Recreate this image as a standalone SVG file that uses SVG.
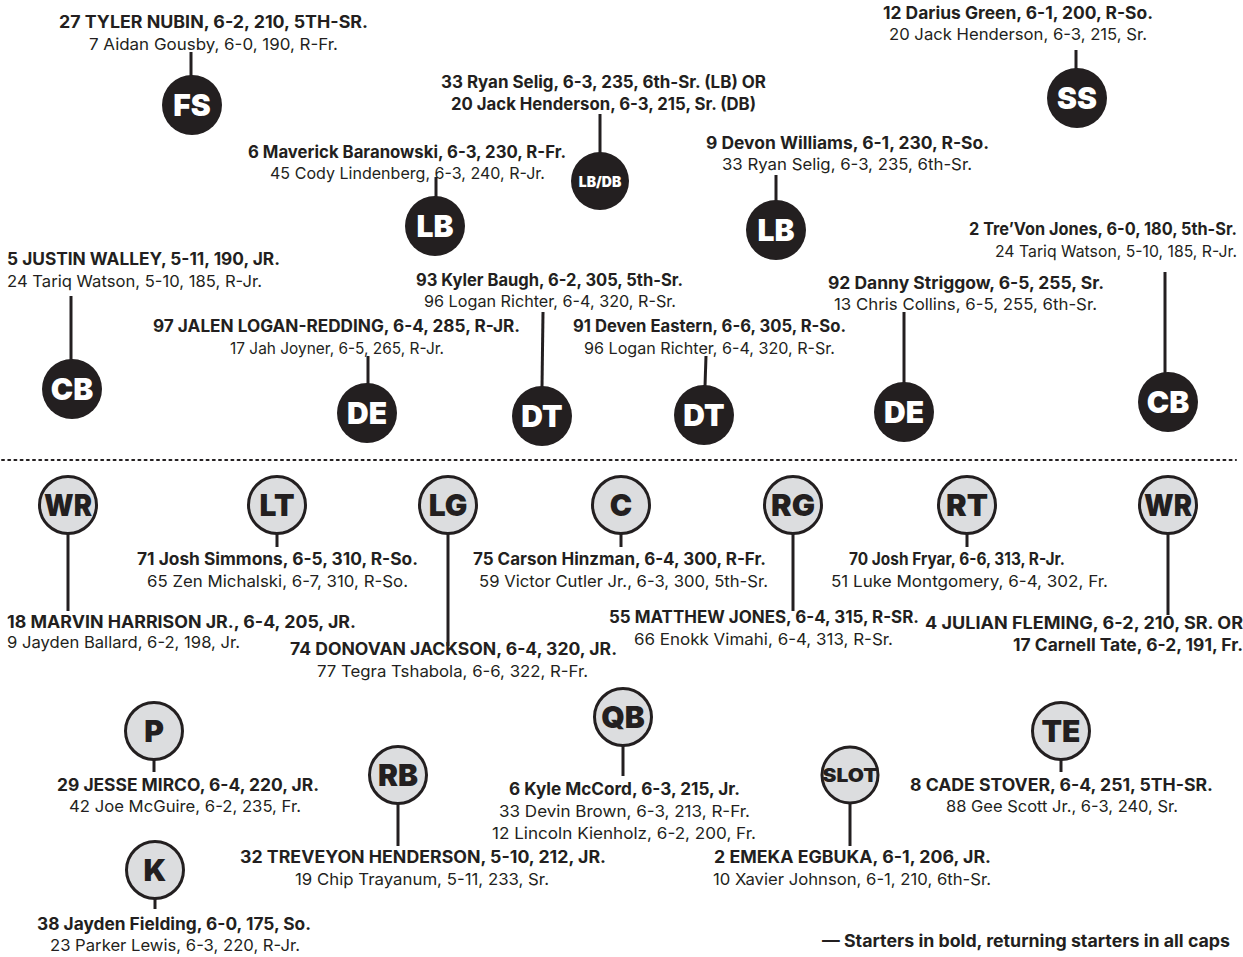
<svg xmlns="http://www.w3.org/2000/svg" width="1243" height="957" viewBox="0 0 1243 957">
<style>
text{fill:#231f20;text-anchor:middle}
.b{font-family:Inter,"Liberation Sans",sans-serif;font-weight:700;font-size:17px}
.r{font-family:Inter,"Liberation Sans",sans-serif;font-weight:400;font-size:16.5px}
.d circle{fill:#231f20}
.d text.p{fill:#fff}
.o circle{fill:#dcdddf;stroke:#231f20;stroke-width:3}
.p{font-family:Inter,"Liberation Sans",sans-serif;font-weight:900;font-size:30px}
#connectors line{stroke:#231f20;stroke-width:3}
</style>
<rect width="1243" height="957" fill="#fff"/>
<line x1="2" y1="460" x2="1236" y2="460" stroke="#231f20" stroke-width="2" stroke-dasharray="2 4.2" stroke-linecap="round"/>
<g id="connectors">
<line x1="191" y1="52" x2="191" y2="76"/>
<line x1="1076" y1="50" x2="1076" y2="69"/>
<line x1="600" y1="114" x2="600" y2="153"/>
<line x1="436" y1="177" x2="436" y2="197"/>
<line x1="776" y1="175" x2="776" y2="201"/>
<line x1="71" y1="296" x2="71" y2="360"/>
<line x1="1165" y1="272" x2="1165" y2="373"/>
<line x1="368" y1="356" x2="368" y2="384"/>
<line x1="543" y1="312" x2="542" y2="387"/>
<line x1="706" y1="356" x2="705" y2="386"/>
<line x1="904" y1="312" x2="904" y2="383"/>
<line x1="68" y1="534" x2="68" y2="611"/>
<line x1="277" y1="534" x2="277" y2="547"/>
<line x1="448" y1="534" x2="448" y2="646"/>
<line x1="621" y1="534" x2="621" y2="547"/>
<line x1="793" y1="534" x2="793" y2="611"/>
<line x1="967" y1="534" x2="967" y2="547"/>
<line x1="1168" y1="534" x2="1168" y2="615"/>
<line x1="154" y1="760" x2="154" y2="772"/>
<line x1="155" y1="899" x2="155" y2="909"/>
<line x1="398" y1="804" x2="398" y2="846"/>
<line x1="623" y1="746" x2="623" y2="776"/>
<line x1="850" y1="803" x2="850" y2="846"/>
<line x1="1061" y1="760" x2="1061" y2="772"/>
</g>
<g id="fs" class="d"><circle cx="192" cy="105" r="30"/><text class="p" x="192" y="116">FS</text>
<text class="b" x="213.5" y="28" textLength="309" lengthAdjust="spacingAndGlyphs">27 TYLER NUBIN, 6-2, 210, 5TH-SR.</text>
<text class="r" x="213.5" y="50" textLength="249" lengthAdjust="spacingAndGlyphs">7 Aidan Gousby, 6-0, 190, R-Fr.</text></g>
<g id="ss" class="d"><circle cx="1077" cy="98" r="30"/><text class="p" x="1077" y="109">SS</text>
<text class="b" x="1018" y="19" textLength="270" lengthAdjust="spacingAndGlyphs">12 Darius Green, 6-1, 200, R-So.</text>
<text class="r" x="1018" y="40" textLength="258" lengthAdjust="spacingAndGlyphs">20 Jack Henderson, 6-3, 215, Sr.</text></g>
<g id="lbdb" class="d"><circle cx="600" cy="181" r="29"/><text class="p" x="600" y="187" style="font-size:14px">LB/DB</text>
<text class="b" x="603.5" y="88" textLength="325" lengthAdjust="spacingAndGlyphs">33 Ryan Selig, 6-3, 235, 6th-Sr. (LB) OR</text>
<text class="b" x="603.5" y="110" textLength="305" lengthAdjust="spacingAndGlyphs">20 Jack Henderson, 6-3, 215, Sr. (DB)</text></g>
<g id="lb-left" class="d"><circle cx="435" cy="226" r="30"/><text class="p" x="435" y="237">LB</text>
<text class="b" x="407" y="158" textLength="318" lengthAdjust="spacingAndGlyphs">6 Maverick Baranowski, 6-3, 230, R-Fr.</text>
<text class="r" x="407.5" y="179" textLength="275" lengthAdjust="spacingAndGlyphs">45 Cody Lindenberg, 6-3, 240, R-Jr.</text></g>
<g id="lb-right" class="d"><circle cx="776" cy="230" r="30"/><text class="p" x="776" y="241">LB</text>
<text class="b" x="847.5" y="149" textLength="283" lengthAdjust="spacingAndGlyphs">9 Devon Williams, 6-1, 230, R-So.</text>
<text class="r" x="847" y="170" textLength="250" lengthAdjust="spacingAndGlyphs">33 Ryan Selig, 6-3, 235, 6th-Sr.</text></g>
<g id="cb-left" class="d"><circle cx="72" cy="389" r="30"/><text class="p" x="72" y="400">CB</text>
<text class="b" x="143.5" y="265" textLength="273" lengthAdjust="spacingAndGlyphs">5 JUSTIN WALLEY, 5-11, 190, JR.</text>
<text class="r" x="134.5" y="287" textLength="255" lengthAdjust="spacingAndGlyphs">24 Tariq Watson, 5-10, 185, R-Jr.</text></g>
<g id="cb-right" class="d"><circle cx="1168" cy="402" r="30"/><text class="p" x="1168" y="413">CB</text>
<text class="b" x="1103" y="235" textLength="268" lengthAdjust="spacingAndGlyphs">2 Tre’Von Jones, 6-0, 180, 5th-Sr.</text>
<text class="r" x="1116" y="257" textLength="242" lengthAdjust="spacingAndGlyphs">24 Tariq Watson, 5-10, 185, R-Jr.</text></g>
<g id="de-left" class="d"><circle cx="367" cy="413" r="30"/><text class="p" x="367" y="424">DE</text>
<text class="b" x="336.5" y="332" textLength="367" lengthAdjust="spacingAndGlyphs">97 JALEN LOGAN-REDDING, 6-4, 285, R-JR.</text>
<text class="r" x="337" y="354" textLength="214" lengthAdjust="spacingAndGlyphs">17 Jah Joyner, 6-5, 265, R-Jr.</text></g>
<g id="dt-left" class="d"><circle cx="542" cy="416" r="30"/><text class="p" x="542" y="427">DT</text>
<text class="b" x="549.5" y="286" textLength="267" lengthAdjust="spacingAndGlyphs">93 Kyler Baugh, 6-2, 305, 5th-Sr.</text>
<text class="r" x="550" y="307" textLength="252" lengthAdjust="spacingAndGlyphs">96 Logan Richter, 6-4, 320, R-Sr.</text></g>
<g id="dt-right" class="d"><circle cx="704" cy="415" r="30"/><text class="p" x="704" y="426">DT</text>
<text class="b" x="709.5" y="332" textLength="273" lengthAdjust="spacingAndGlyphs">91 Deven Eastern, 6-6, 305, R-So.</text>
<text class="r" x="709.5" y="354" textLength="251" lengthAdjust="spacingAndGlyphs">96 Logan Richter, 6-4, 320, R-Sr.</text></g>
<g id="de-right" class="d"><circle cx="904" cy="412" r="30"/><text class="p" x="904" y="423">DE</text>
<text class="b" x="966" y="289" textLength="276" lengthAdjust="spacingAndGlyphs">92 Danny Striggow, 6-5, 255, Sr.</text>
<text class="r" x="965.5" y="310" textLength="263" lengthAdjust="spacingAndGlyphs">13 Chris Collins, 6-5, 255, 6th-Sr.</text></g>
<g id="wr-left" class="o"><circle cx="68" cy="505" r="28.5"/><text class="p" x="68" y="516" textLength="48" lengthAdjust="spacingAndGlyphs">WR</text>
<text class="b" x="181.5" y="628" textLength="349" lengthAdjust="spacingAndGlyphs">18 MARVIN HARRISON JR., 6-4, 205, JR.</text>
<text class="r" x="123.5" y="648" textLength="233" lengthAdjust="spacingAndGlyphs">9 Jayden Ballard, 6-2, 198, Jr.</text></g>
<g id="lt" class="o"><circle cx="277" cy="505" r="28.5"/><text class="p" x="277" y="516">LT</text>
<text class="b" x="277.5" y="565" textLength="281" lengthAdjust="spacingAndGlyphs">71 Josh Simmons, 6-5, 310, R-So.</text>
<text class="r" x="277.5" y="587" textLength="261" lengthAdjust="spacingAndGlyphs">65 Zen Michalski, 6-7, 310, R-So.</text></g>
<g id="lg" class="o"><circle cx="448" cy="505" r="28.5"/><text class="p" x="448" y="516">LG</text>
<text class="b" x="453.5" y="655" textLength="327" lengthAdjust="spacingAndGlyphs">74 DONOVAN JACKSON, 6-4, 320, JR.</text>
<text class="r" x="452.5" y="677" textLength="271" lengthAdjust="spacingAndGlyphs">77 Tegra Tshabola, 6-6, 322, R-Fr.</text></g>
<g id="c" class="o"><circle cx="621" cy="505" r="28.5"/><text class="p" x="621" y="516">C</text>
<text class="b" x="619.5" y="565" textLength="293" lengthAdjust="spacingAndGlyphs">75 Carson Hinzman, 6-4, 300, R-Fr.</text>
<text class="r" x="623.5" y="587" textLength="289" lengthAdjust="spacingAndGlyphs">59 Victor Cutler Jr., 6-3, 300, 5th-Sr.</text></g>
<g id="rg" class="o"><circle cx="793" cy="505" r="28.5"/><text class="p" x="793" y="516" textLength="44" lengthAdjust="spacingAndGlyphs">RG</text>
<text class="b" x="764" y="623" textLength="310" lengthAdjust="spacingAndGlyphs">55 MATTHEW JONES, 6-4, 315, R-SR.</text>
<text class="r" x="763.5" y="645" textLength="259" lengthAdjust="spacingAndGlyphs">66 Enokk Vimahi, 6-4, 313, R-Sr.</text></g>
<g id="rt" class="o"><circle cx="967" cy="505" r="28.5"/><text class="p" x="967" y="516" textLength="42" lengthAdjust="spacingAndGlyphs">RT</text>
<text class="b" x="957" y="565" textLength="216" lengthAdjust="spacingAndGlyphs">70 Josh Fryar, 6-6, 313, R-Jr.</text>
<text class="r" x="969.5" y="587" textLength="277" lengthAdjust="spacingAndGlyphs">51 Luke Montgomery, 6-4, 302, Fr.</text></g>
<g id="wr-right" class="o"><circle cx="1168" cy="505" r="28.5"/><text class="p" x="1168" y="516" textLength="48" lengthAdjust="spacingAndGlyphs">WR</text>
<text class="b" x="1084" y="629" textLength="318" lengthAdjust="spacingAndGlyphs">4 JULIAN FLEMING, 6-2, 210, SR. OR</text>
<text class="b" x="1128" y="651" textLength="230" lengthAdjust="spacingAndGlyphs">17 Carnell Tate, 6-2, 191, Fr.</text></g>
<g id="p" class="o"><circle cx="154" cy="731" r="28.5"/><text class="p" x="154" y="742">P</text>
<text class="b" x="188" y="791" textLength="262" lengthAdjust="spacingAndGlyphs">29 JESSE MIRCO, 6-4, 220, JR.</text>
<text class="r" x="185" y="812" textLength="232" lengthAdjust="spacingAndGlyphs">42 Joe McGuire, 6-2, 235, Fr.</text></g>
<g id="k" class="o"><circle cx="155" cy="870" r="28.5"/><text class="p" x="155" y="881">K</text>
<text class="b" x="174" y="930" textLength="274" lengthAdjust="spacingAndGlyphs">38 Jayden Fielding, 6-0, 175, So.</text>
<text class="r" x="175" y="951" textLength="250" lengthAdjust="spacingAndGlyphs">23 Parker Lewis, 6-3, 220, R-Jr.</text></g>
<g id="rb" class="o"><circle cx="398" cy="775" r="28.5"/><text class="p" x="398" y="786">RB</text>
<text class="b" x="423" y="863" textLength="366" lengthAdjust="spacingAndGlyphs">32 TREVEYON HENDERSON, 5-10, 212, JR.</text>
<text class="r" x="422" y="885" textLength="254" lengthAdjust="spacingAndGlyphs">19 Chip Trayanum, 5-11, 233, Sr.</text></g>
<g id="qb" class="o"><circle cx="623" cy="717" r="28.5"/><text class="p" x="623" y="728">QB</text>
<text class="b" x="624.5" y="795" textLength="231" lengthAdjust="spacingAndGlyphs">6 Kyle McCord, 6-3, 215, Jr.</text>
<text class="r" x="624.5" y="817" textLength="251" lengthAdjust="spacingAndGlyphs">33 Devin Brown, 6-3, 213, R-Fr.</text>
<text class="r" x="624" y="839" textLength="264" lengthAdjust="spacingAndGlyphs">12 Lincoln Kienholz, 6-2, 200, Fr.</text></g>
<g id="slot" class="o"><circle cx="850" cy="775" r="28"/><text class="p" x="850" y="782" style="font-size:19px" textLength="55" lengthAdjust="spacingAndGlyphs">SLOT</text>
<text class="b" x="852.5" y="863" textLength="277" lengthAdjust="spacingAndGlyphs">2 EMEKA EGBUKA, 6-1, 206, JR.</text>
<text class="r" x="852" y="885" textLength="278" lengthAdjust="spacingAndGlyphs">10 Xavier Johnson, 6-1, 210, 6th-Sr.</text></g>
<g id="te" class="o"><circle cx="1061" cy="731" r="28.5"/><text class="p" x="1061" y="742">TE</text>
<text class="b" x="1061.5" y="791" textLength="303" lengthAdjust="spacingAndGlyphs">8 CADE STOVER, 6-4, 251, 5TH-SR.</text>
<text class="r" x="1062" y="812" textLength="232" lengthAdjust="spacingAndGlyphs">88 Gee Scott Jr., 6-3, 240, Sr.</text></g>
<text class="b" x="1026" y="947" textLength="408" lengthAdjust="spacingAndGlyphs">— Starters in bold, returning starters in all caps</text>
</svg>
